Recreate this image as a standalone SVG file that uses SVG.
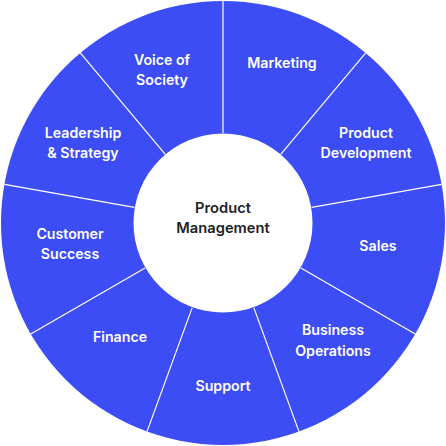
<svg xmlns="http://www.w3.org/2000/svg" width="446" height="446" viewBox="0 0 446 446">
<style>
.ring{fill:#3c4df5}
.sep{stroke:#ffffff;stroke-width:1.2}
.lbl{font-family:Inter,"Liberation Sans",sans-serif;font-size:14.2px;font-weight:600;fill:#ffffff;text-anchor:middle}
.ctr{font-family:Inter,"Liberation Sans",sans-serif;font-size:14.7px;font-weight:600;fill:#222222;text-anchor:middle}
</style>
<rect width="446" height="446" fill="#ffffff"/>
<circle class="ring" cx="223" cy="223" r="222"/>
<g id="connectors">
<line class="sep" x1="223" y1="133" x2="223" y2="0"/>
<line class="sep" x1="280.9" y1="154.1" x2="365.7" y2="52.9"/>
<line class="sep" x1="311.6" y1="207.4" x2="441.6" y2="184.4"/>
<line class="sep" x1="300.9" y1="268" x2="415.3" y2="334"/>
<line class="sep" x1="253.8" y1="307.6" x2="299" y2="431.6"/>
<line class="sep" x1="192.2" y1="307.6" x2="147" y2="431.6"/>
<line class="sep" x1="145.1" y1="268" x2="30.7" y2="334"/>
<line class="sep" x1="134.4" y1="207.4" x2="4.4" y2="184.4"/>
<line class="sep" x1="165.1" y1="154.1" x2="80.3" y2="52.9"/>
</g>
<g id="center"><circle cx="223" cy="223" r="89.5" fill="#ffffff"/>
<text class="ctr" x="223" y="213">Product</text><text class="ctr" x="223" y="233">Management</text></g>
<g id="voice"><text class="lbl" x="162" y="65">Voice of</text><text class="lbl" x="162" y="85">Society</text></g>
<g id="marketing"><text class="lbl" x="282" y="68">Marketing</text></g>
<g id="productdev"><text class="lbl" x="366" y="138">Product</text><text class="lbl" x="366" y="158">Development</text></g>
<g id="sales"><text class="lbl" x="378" y="251">Sales</text></g>
<g id="busops"><text class="lbl" x="333" y="335">Business</text><text class="lbl" x="333" y="356">Operations</text></g>
<g id="support"><text class="lbl" x="223" y="391">Support</text></g>
<g id="finance"><text class="lbl" x="120" y="342">Finance</text></g>
<g id="custsuccess"><text class="lbl" x="70" y="239">Customer</text><text class="lbl" x="70" y="259">Success</text></g>
<g id="leadership"><text class="lbl" x="83" y="138">Leadership</text><text class="lbl" x="83" y="158">&amp; Strategy</text></g>
</svg>
